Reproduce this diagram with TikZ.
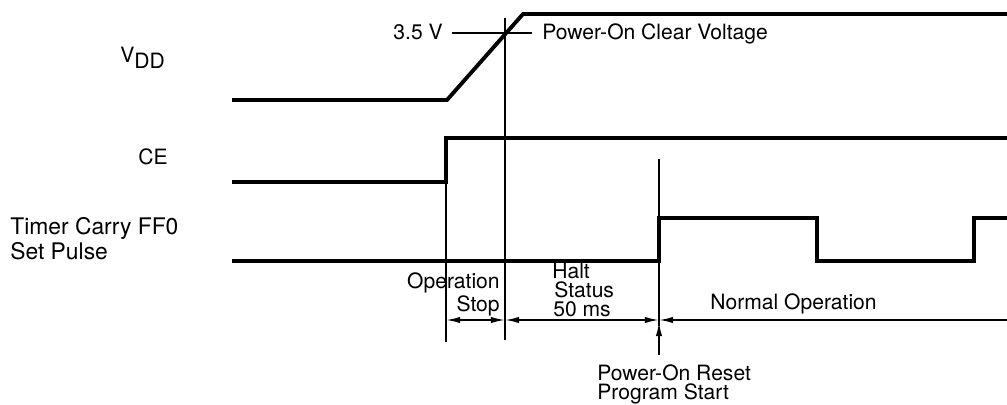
\documentclass[tikz,border=0pt]{standalone}
\usepackage{fontspec}
\setmainfont{TeX Gyre Heros}
\usetikzlibrary{arrows.meta}

\begin{document}
\begin{tikzpicture}[x=.02cm,y=-.02cm,>={Latex[length=8pt,width=3.6pt]},
  sig/.style={line width=2.2pt,line join=miter},
  guide/.style={line width=1pt},
  lbl/.style={font=\fontsize{12}{14}\selectfont,inner sep=0pt}]
  \useasboundingbox (0,0) rectangle (1007,405);
  % signal waveforms
  \draw[sig] (232,100)--(447,100)--(523,14)--(1007,14);
  \draw[sig] (232,182)--(446,182)--(446,138)--(1007,138);
  \draw[sig] (232,261)--(659,261)--(659,218)--(817,218)--(817,261)--(974,261)--(974,218)--(1007,218);
  % reference lines
  \coordinate (ceTop) at (446,138);
  \coordinate (ceBot) at (446,342);
  \coordinate (clrTop) at (505,18);
  \coordinate (clrBot) at (505,340);
  \coordinate (porTop) at (659,159);
  \coordinate (porBot) at (659,326);
  \draw[guide] (ceTop)--(ceBot) (clrTop)--(clrBot) (porTop)--(porBot);
  \draw[guide] (452,33)--(532,33);
  % durations
  \coordinate (ce) at (446,320);
  \coordinate (clr) at (505,320);
  \coordinate (por) at (659,320);
  \coordinate (endR) at (1007,320);
  \coordinate (porArr) at (659,355);
  \draw[guide,<->] (ce)--(clr);
  \draw[guide,<->] (clr)--(por);
  \draw[guide,<-] (por)--(endR);
  \draw[guide,->] (porArr)--(659,322);
  % labels
  \node[lbl,anchor=base west] (vdd) at (120,63) {V\raisebox{-.5ex}{DD}};
  \node[lbl,anchor=base east] (ceLbl) at (168,165) {CE};
  \node[lbl,font=\fontsize{13}{15}\selectfont,anchor=base west] (tmr) at (10,235) {Timer Carry FF0};
  \node[lbl,font=\fontsize{13}{15}\selectfont,anchor=base west] (tmr2) at (10,259) {Set Pulse};
  \node[lbl,anchor=base east] (volt) at (443,40) {3.5 V};
  \node[lbl,anchor=base west] (clrV) at (542,40) {Power-On Clear Voltage};
  \node[lbl,anchor=base east] (opStop) at (500,288) {Operation};
  \node[lbl,anchor=base east] (opStop2) at (500,311) {Stop};
  \node[lbl,anchor=base west] (halt) at (552,278) {Halt};
  \node[lbl,anchor=base west] (halt2) at (554,297) {Status};
  \node[lbl,anchor=base west] (halt3) at (553,316) {50 ms};
  \node[lbl,anchor=base west] (norm) at (710,309) {Normal Operation};
  \node[lbl,anchor=base west] (rst) at (597,380) {Power-On Reset};
  \node[lbl,anchor=base west] (rst2) at (597,399) {Program Start};
\end{tikzpicture}
\end{document}
